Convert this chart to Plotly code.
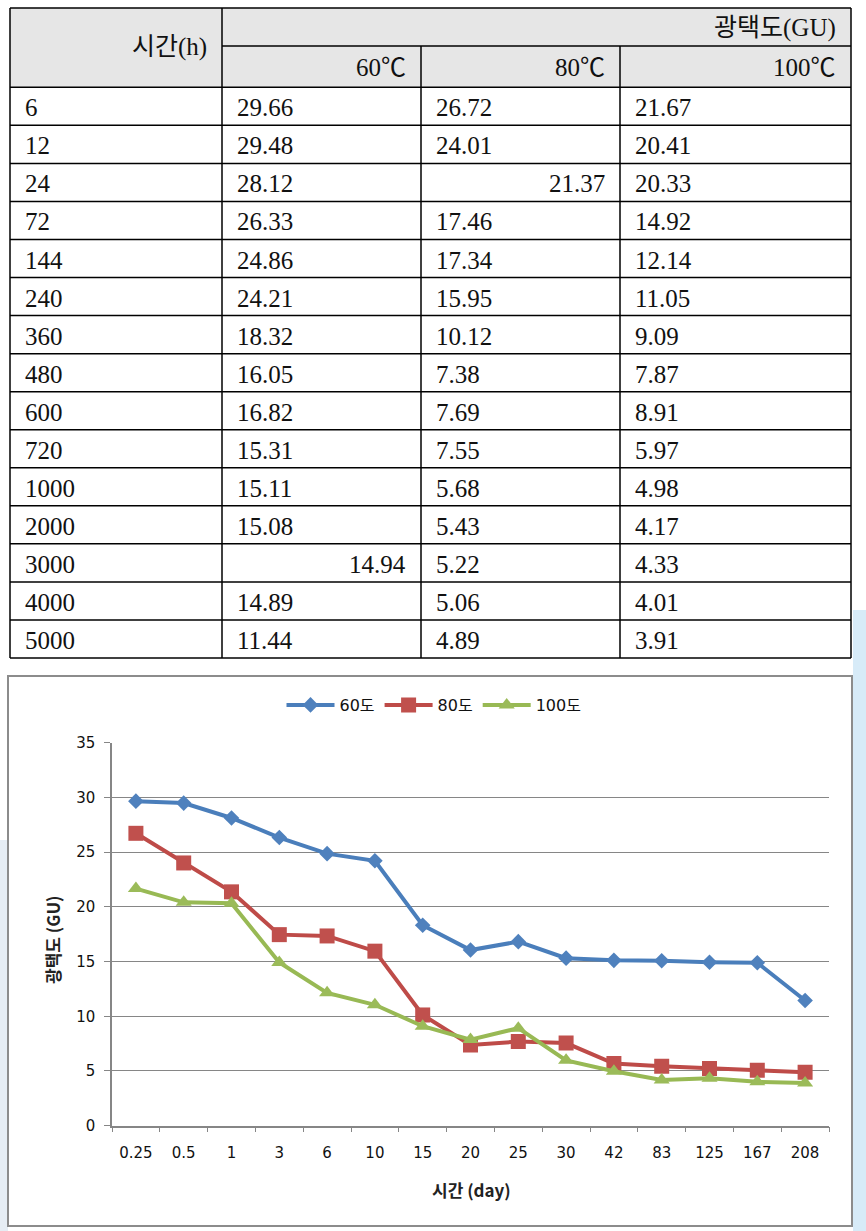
import plotly.graph_objects as go

# ---------------- data ----------------
hours = ["6", "12", "24", "72", "144", "240", "360", "480", "600", "720",
         "1000", "2000", "3000", "4000", "5000"]
days = ["0.25", "0.5", "1", "3", "6", "10", "15", "20", "25", "30",
        "42", "83", "125", "167", "208"]
gloss_60 = [29.66, 29.48, 28.12, 26.33, 24.86, 24.21, 18.32, 16.05, 16.82, 15.31,
            15.11, 15.08, 14.94, 14.89, 11.44]
gloss_80 = [26.72, 24.01, 21.37, 17.46, 17.34, 15.95, 10.12, 7.38, 7.69, 7.55,
            5.68, 5.43, 5.22, 5.06, 4.89]
gloss_100 = [21.67, 20.41, 20.33, 14.92, 12.14, 11.05, 9.09, 7.87, 8.91, 5.97,
             4.98, 4.17, 4.33, 4.01, 3.91]

table_cols = ["60℃", "80℃", "100℃"]
table_group = "광택도(GU)"
table_rowhead = "시간(h)"
series_names = ["60도", "80도", "100도"]
x_title = "시간 (day)"
y_title = "광택도 (GU)"

# ---------------- geometry / style ----------------
W, H = 866, 1231


def px(x):
    return x / W


def py(y):
    return 1 - y / H


COL_X = [10, 222, 421, 620, 851]
HEAD_TOP, HEAD_MID, HEAD_BOT = 8, 46, 87.3
ROW_H = (658 - HEAD_BOT) / len(hours)
PAD = 13
right_aligned = {(2, 1), (12, 0)}   # (row, value column) cells that are right aligned

TFONT = dict(family="Liberation Serif, Noto Sans CJK KR", size=25, color="#111111")
CFONT = "DejaVu Sans, Noto Sans CJK KR"

fig = go.Figure()

colors_line = ["#4A7EBB", "#BE4B48", "#98B954"]
colors_mark = ["#4F81BD", "#C0504D", "#9BBB59"]
symbols = ["diamond", "square", "triangle-up"]
sizes = [12, 15, 14]
for name, vals, cl, cm, sym, sz in zip(series_names, [gloss_60, gloss_80, gloss_100],
                                       colors_line, colors_mark, symbols, sizes):
    fig.add_trace(go.Scatter(
        x=days, y=vals, name=name, mode="lines+markers",
        line=dict(color=cl, width=4),
        marker=dict(symbol=sym, size=sz, color=cm, line=dict(width=0)),
    ))

shapes = []
annotations = []

# decorative light-blue background bits
shapes.append(dict(type="rect", xref="paper", yref="paper", layer="below",
                   x0=px(853), x1=1, y0=0, y1=py(610),
                   fillcolor="#d7ebf8", line=dict(width=0)))
shapes.append(dict(type="rect", xref="paper", yref="paper", layer="below",
                   x0=0, x1=px(8), y0=0, y1=py(840),
                   fillcolor="#e6edf4", line=dict(width=0)))

# ---------------- table ----------------
shapes.append(dict(type="rect", xref="paper", yref="paper", layer="below",
                   x0=px(COL_X[0]), x1=px(COL_X[-1]), y0=py(HEAD_BOT), y1=py(HEAD_TOP),
                   fillcolor="#e6e6e6", line=dict(width=0)))
shapes.append(dict(type="rect", xref="paper", yref="paper", layer="below",
                   x0=px(COL_X[0]), x1=px(COL_X[-1]), y0=py(658), y1=py(HEAD_BOT),
                   fillcolor="#ffffff", line=dict(width=0)))
LINE = dict(color="#000000", width=1.5)


def hline(y, x0, x1):
    shapes.append(dict(type="line", xref="paper", yref="paper",
                       x0=px(x0), x1=px(x1), y0=py(y), y1=py(y), line=LINE))


def vline(x, y0, y1):
    shapes.append(dict(type="line", xref="paper", yref="paper",
                       x0=px(x), x1=px(x), y0=py(y0), y1=py(y1), line=LINE))


hline(HEAD_TOP, COL_X[0], COL_X[-1])
hline(HEAD_MID, COL_X[1], COL_X[-1])
for i in range(len(hours) + 1):
    hline(HEAD_BOT + i * ROW_H, COL_X[0], COL_X[-1])
vline(COL_X[0], HEAD_TOP, 658)
vline(COL_X[1], HEAD_TOP, 658)
vline(COL_X[2], HEAD_MID, 658)
vline(COL_X[3], HEAD_MID, 658)
vline(COL_X[4], HEAD_TOP, 658)


def ttext(s, x, y, anchor):
    annotations.append(dict(text=s, xref="paper", yref="paper", x=px(x), y=py(y),
                            xanchor=anchor, yanchor="middle", showarrow=False,
                            font=TFONT))


ttext(table_rowhead, COL_X[1] - PAD, (HEAD_TOP + HEAD_BOT) / 2 - 1, "right")
ttext(table_group, COL_X[-1] - PAD, (HEAD_TOP + HEAD_MID) / 2 + 1, "right")
for j, c in enumerate(table_cols):
    ttext(c, COL_X[j + 2] - PAD, (HEAD_MID + HEAD_BOT) / 2 + 1, "right")

for i, h in enumerate(hours):
    yc = HEAD_BOT + (i + 0.5) * ROW_H + 1.5
    ttext(h, COL_X[0] + PAD, yc, "left")
    for j, vals in enumerate([gloss_60, gloss_80, gloss_100]):
        s = f"{vals[i]:.2f}"
        if (i, j) in right_aligned:
            ttext(s, COL_X[j + 2] - PAD, yc, "right")
        else:
            ttext(s, COL_X[j + 1] + PAD, yc, "left")

# ---------------- chart frame ----------------
shapes.append(dict(type="rect", xref="paper", yref="paper", layer="below",
                   x0=px(8), x1=px(852), y0=py(1226), y1=py(676),
                   fillcolor="#ffffff", line=dict(color="#8c8c8c", width=2)))

annotations.append(dict(text=x_title, xref="paper", yref="paper",
                        x=px(471), y=py(1189), xanchor="center", yanchor="middle",
                        showarrow=False,
                        font=dict(family="Noto Sans CJK KR", size=17, color="#222222",
                                  weight="bold")))
annotations.append(dict(text=y_title, xref="paper", yref="paper",
                        x=px(52), y=py(940), xanchor="center", yanchor="middle",
                        textangle=-90, showarrow=False,
                        font=dict(family="Noto Sans CJK KR", size=17, color="#222222",
                                  weight="bold")))

AX = "#868686"
fig.update_layout(
    width=W, height=H,
    margin=dict(l=0, r=0, t=0, b=0, autoexpand=False),
    paper_bgcolor="#ffffff", plot_bgcolor="rgba(0,0,0,0)",
    shapes=shapes, annotations=annotations,
    showlegend=True,
    legend=dict(orientation="h", x=px(434), xanchor="center", y=py(705),
                yanchor="middle", font=dict(family=CFONT, size=16, color="#111111"),
                bgcolor="rgba(0,0,0,0)", itemwidth=48),
    xaxis=dict(domain=[px(112), px(829)], type="category", range=[-0.5, 14.5],
               showline=True, linecolor=AX, linewidth=1.5,
               ticks="outside", tickson="boundaries", ticklen=5, tickcolor=AX,
               tickwidth=1.2, showgrid=False, zeroline=False,
               tickfont=dict(family=CFONT, size=15, color="#111111"),
               ticklabelstandoff=13, fixedrange=True),
    yaxis=dict(domain=[py(1125.7), py(742.7)], range=[0, 35], dtick=5,
               showline=True, linecolor=AX, linewidth=1.5,
               ticks="outside", ticklen=6, tickcolor=AX, tickwidth=1.2,
               showgrid=True, gridcolor=AX, gridwidth=1.2, zeroline=False,
               tickfont=dict(family=CFONT, size=15, color="#111111"),
               ticklabelstandoff=6, fixedrange=True),
)

fig.write_html("out.html", config={"displayModeBar": False},
               post_script="document.body.style.margin='0';")
